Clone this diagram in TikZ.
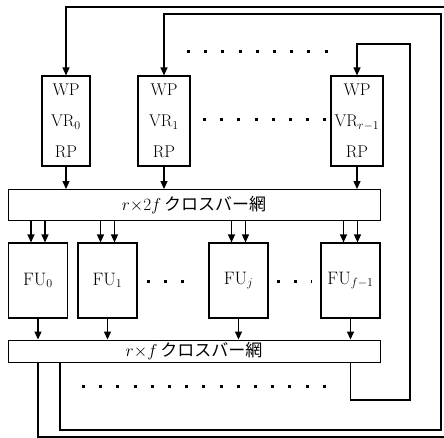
\documentclass[tikz,border=0pt]{standalone}
\usepackage{fontspec}
\newfontfamily\cjk{Noto Sans CJK JP}
\usepackage{tikz}
\usetikzlibrary{arrows.meta,positioning}

\begin{document}
\begin{tikzpicture}[
      x=1pt, y=-1pt,
      every node/.style={font=\fontsize{17}{31}\selectfont},
      unit/.style={rectangle, draw, line width=1.1pt, inner sep=0pt,
                   minimum height=90pt, align=center},
      fubox/.style={rectangle, draw, line width=1.1pt, inner sep=0pt,
                    minimum width=59pt, minimum height=75pt,
                    font=\fontsize{18}{24}\selectfont},
      xbar/.style={rectangle, draw, line width=0.9pt, inner sep=0pt,
                   minimum width=372pt},
      arr/.style={-{Triangle[length=8pt, width=7pt]}, line width=1.3pt},
      fb/.style={line width=1.6pt},
      dotrow/.style={line width=3pt, dash pattern=on 3pt off 14.2pt}
    ]
      \useasboundingbox (0,0) rectangle (444,438);
      \clip (0,0) rectangle (444,438);

      % vector registers
      \node[unit, minimum width=48pt] (VR0) at (66,121) {WP\\VR$_0$\\RP};
      \node[unit, minimum width=52pt] (VR1) at (164,121) {WP\\VR$_1$\\RP};
      \node[unit, minimum width=52pt] (VRr) at (357,121) {WP\\VR$_{r-1}$\\RP};

      % crossbars
      \node[xbar, minimum height=31pt] (xbarA) at (194,205)
            {$r{\times}2f$\,{\cjk クロスバー網}};
      \node[xbar, minimum height=22pt] (xbarB) at (194,351)
            {$r{\times}f$\,{\cjk クロスバー網}};

      % functional units
      \node[fubox] (FU0) at (38,280.5) {FU$_0$};
      \node[fubox] (FU1) at (107.5,280.5) {FU$_1$};
      \node[fubox] (FUj) at (238.5,280.5) {FU$_j$};
      \node[fubox] (FUf) at (350.5,280.5) {FU$_{f-1}$};

      \foreach \v in {VR0,VR1,VRr}
        \draw[arr] (\v.south) -- (\v.south |- xbarA.north);
      \foreach \f in {FU0,FU1,FUj,FUf} {
        \draw[arr] ([xshift=-7pt]\f.north |- xbarA.south) -- ([xshift=-7pt]\f.north);
        \draw[arr] ([xshift=7pt]\f.north |- xbarA.south) -- ([xshift=7pt]\f.north);
        \draw[arr] (\f.south) -- (\f.south |- xbarB.north);
      }

      % feedback paths
      \coordinate (s1) at (60,362);
      \coordinate (b0) at (450,437);
      \coordinate (t0) at (450,7);
      \coordinate (b1) at (441,430);
      \coordinate (t1) at (441,14);
      \coordinate (br) at (410,400);
      \coordinate (tr) at (410,44);
      \draw[fb, arr] (FU0.south |- xbarB.south) |- (b0) -- (t0) -| (VR0.north);
      \draw[fb, arr] (s1) |- (b1) -- (t1) -| (VR1.north);
      \draw[fb, arr] (FUf.south |- xbarB.south) |- (br) -- (tr) -| (VRr.north);

      % ellipses
      \draw[dotrow] (187,52) -- (330,52);
      \draw[dotrow] (203,120) -- (330,120);
      \draw[dotrow] (147,281) -- (196,281);
      \draw[dotrow] (277,281) -- (312,281);
      \draw[dotrow] (82,386) -- (328,386);
    \end{tikzpicture}
\end{document}
